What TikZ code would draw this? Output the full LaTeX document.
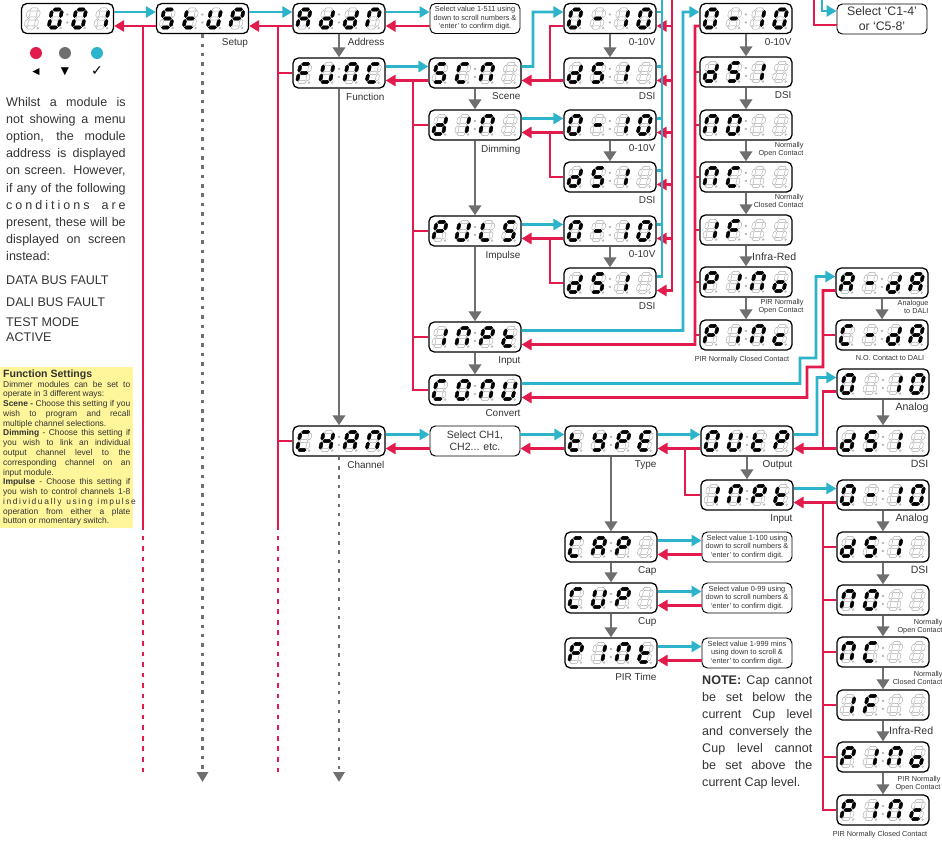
\documentclass[tikz,border=0pt]{standalone}
\usepackage{fontspec}
\setmainfont{Liberation Sans}
\newfontfamily\symfont{DejaVu Sans}
\usepackage{xcolor}
\usepackage{tikz}
\usetikzlibrary{positioning,arrows.meta,calc}
\definecolor{MenuCyan}{HTML}{2EB4CA}
\definecolor{MenuRed}{HTML}{E31A4C}
\definecolor{MenuGrey}{HTML}{6F6F6F}
\definecolor{SegGrey}{HTML}{A8A8A8}
\definecolor{TextGrey}{HTML}{333333}
\definecolor{NoteYellow}{HTML}{FFF59A}
\tikzset{segoff/.style={draw=SegGrey,line width=0.35pt,fill=white},
 segon/.style={draw=black,line width=0.3pt,fill=black}}
% one segment of a display digit
\newcommand{\hsg}[3]{(#1,#3) -- (#1+1.6,#3-1.6) -- (#2-1.6,#3-1.6) -- (#2,#3) -- (#2-1.6,#3+1.6) -- (#1+1.6,#3+1.6) -- cycle}
\newcommand{\vsg}[3]{(#1,#2) -- (#1+1.6,#2+1.6) -- (#1+1.6,#3-1.6) -- (#1,#3) -- (#1-1.6,#3-1.6) -- (#1-1.6,#2+1.6) -- cycle}
\newcommand{\sega}{\hsg{-4.1}{4.1}{-9}}
\newcommand{\segb}{\vsg{5}{-8.1}{-0.9}}
\newcommand{\segc}{\vsg{5}{0.9}{8.1}}
\newcommand{\segd}{\hsg{-4.1}{4.1}{9}}
\newcommand{\sege}{\vsg{-5}{0.9}{8.1}}
\newcommand{\segf}{\vsg{-5}{-8.1}{-0.9}}
\newcommand{\segg}{\hsg{-4.1}{4.1}{0}}
\newcommand{\segn}{}
% lit segments of each glyph
\newcommand{\sdOff}{n}
\newcommand{\sdO}{a,b,c,d,e,f}
\newcommand{\sdOne}{b,c}
\newcommand{\sdDash}{g}
\newcommand{\sdA}{a,b,c,e,f,g}
\newcommand{\sdC}{a,d,e,f}
\newcommand{\sdc}{d,e,g}
\newcommand{\sdd}{b,c,d,e,g}
\newcommand{\sdE}{a,d,e,f,g}
\newcommand{\sdF}{a,e,f,g}
\newcommand{\sdH}{b,c,e,f,g}
\newcommand{\sdI}{b,c}
\newcommand{\sdL}{d,e,f}
\newcommand{\sdN}{a,b,c,e,f}
\newcommand{\sdo}{c,d,e,g}
\newcommand{\sdP}{a,b,e,f,g}
\newcommand{\sdR}{a,b,e,f}
\newcommand{\sdS}{a,c,d,f,g}
\newcommand{\sdt}{d,e,f,g}
\newcommand{\sdU}{b,c,d,e,f}
\newcommand{\sdY}{b,c,d,f,g}
\newcommand{\sdig}[3]{%
 \begin{scope}[shift={($(#1.west)+(#2,0)$)},xslant=0.2]
  \foreach \s in {a,b,c,d,e,f,g}{\draw[segoff] \csname seg\s\endcsname;}
  \foreach \s in #3{\fill[segon] \csname seg\s\endcsname;}
  \draw[segoff] (7.2,9.6) circle (0.9);
 \end{scope}}
\newcommand{\lcd}[5]{%
 \sdig{#1}{11.5}{#2}\sdig{#1}{34.5}{#3}\sdig{#1}{58.5}{#4}\sdig{#1}{81}{#5}%
 \draw[segoff] ($(#1.west)+(46.5,-4)$) circle (0.9) ($(#1.west)+(46.5,4)$) circle (0.9);}
% justified line
\newlength{\introW}\setlength{\introW}{102pt}
\newlength{\funW}\setlength{\funW}{108.5pt}
\newlength{\noteW}\setlength{\noteW}{94pt}
\newcommand{\jl}[2][\introW]{\makebox[#1][s]{#2}}

\begin{document}
\begin{tikzpicture}[x=0.3mm,y=-0.3mm,
 disp/.style={draw=black,line width=1.1pt,rounded corners=1.6mm,fill=white,minimum width=27.6mm,minimum height=9mm,inner sep=0pt},
 hint/.style={draw=black,line width=0.8pt,rounded corners=1.6mm,fill=white,minimum width=27mm,minimum height=9mm,inner sep=0pt,align=center,text=TextGrey,font=\fontsize{6.3}{7.2}\selectfont},
 fwd/.style={draw=MenuCyan,line width=2.5pt,-{Triangle[length=8.5pt,width=9.5pt]}},
 back/.style={draw=MenuRed,line width=2.5pt,-{Triangle[length=8.5pt,width=9.5pt]}},
 cline/.style={draw=MenuCyan,line width=2.5pt},
 rline/.style={draw=MenuRed,line width=2.5pt},
 rdash/.style={draw=MenuRed,line width=2.3pt,dash pattern=on 4pt off 5pt},
 gdash/.style={draw=MenuGrey,line width=2.3pt,dash pattern=on 3pt off 5pt,-{Triangle[length=8.5pt,width=9.5pt]}},
 down/.style={draw=MenuGrey,line width=2.5pt,-{Triangle[length=8.5pt,width=10.5pt]}},
 lab/.style={inner sep=0pt,anchor=north east,text=TextGrey,font=\fontsize{8.5}{9}\selectfont},
 labr/.style={lab,font=\fontsize{9}{10}\selectfont},
 sublab/.style={inner sep=0pt,anchor=north east,align=right,text=TextGrey,font=\fontsize{6.2}{7.4}\selectfont},
 key/.style={circle,minimum size=3.6mm,inner sep=0pt}]
\useasboundingbox (0,0) rectangle (942,842);

% displays, setup menu
\node[disp] (n001) at (67.5,18.5) {};
\node[disp] (setup) at (202.5,18.5) {};
\node[disp] (addr) at (339,18.5) {};
\node[hint] (sel511) at (475,18.5) {Select value 1-511 using\\down to scroll numbers \&\\`enter' to confirm digit.};
\node[disp] (func) at (339,73) {};
\node[disp] (chan) at (339,441) {};
\node[disp] (scn) at (475,73) {};
\node[disp] (dim) at (475,125) {};
\node[disp] (puls) at (475,231) {};
\node[disp] (inpt) at (475,337) {};
\node[disp] (conv) at (475,390) {};
\node[hint,font=\fontsize{9}{10.5}\selectfont] (selch) at (475,441) {Select CH1,\\CH2... etc.};
% output type columns
\node[disp] (s010) at (610,18.5) {};
\node[disp] (sdsi) at (610,73) {};
\node[disp] (d010) at (610,125) {};
\node[disp] (ddsi) at (610,177) {};
\node[disp] (p010) at (610,231) {};
\node[disp] (pdsi) at (610,283) {};
\node[disp] (i010) at (746,18.5) {};
\node[disp] (idsi) at (746,72) {};
\node[disp] (ino) at (746,125) {};
\node[disp] (inc) at (746,177) {};
\node[disp] (iif) at (746,230) {};
\node[disp] (ipino) at (746,282) {};
\node[disp] (ipinc) at (746,335) {};
\node[hint,font=\fontsize{10.5}{12.8}\selectfont] (selc) at (882,19) {Select `C1-4'\\or `C5-8'};
\node[disp] (ada) at (882,283) {};
\node[disp] (cda) at (882,335) {};
% channel menu
\node[disp] (type) at (611,441) {};
\node[disp] (outp) at (747,441) {};
\node[disp] (inpt2) at (747,495) {};
\node[disp] (oa010) at (883,384) {};
\node[disp] (oadsi) at (883,441) {};
\node[disp] (ia010) at (883,495) {};
\node[disp] (iadsi) at (883,547) {};
\node[disp] (iano) at (883,600) {};
\node[disp] (ianc) at (883,652) {};
\node[disp] (iaif) at (883,705) {};
\node[disp] (iapino) at (883,757) {};
\node[disp] (iapinc) at (883,810) {};
\node[disp] (cap) at (611,547) {};
\node[disp] (cup) at (611,598) {};
\node[disp] (pint) at (611,653) {};
\node[hint] (sel100) at (747,547) {Select value 1-100 using\\down to scroll numbers \&\\`enter' to confirm digit.};
\node[hint] (sel099) at (747,598) {Select value 0-99 using\\down to scroll numbers \&\\`enter' to confirm digit.};
\node[hint] (sel999) at (747,653) {Select value 1-999 mins\\using down to scroll \&\\`enter' to confirm digit.};

% what each display shows
\lcd{n001}{\sdOff}{\sdO}{\sdO}{\sdOne}
\lcd{setup}{\sdS}{\sdt}{\sdU}{\sdP}
\lcd{addr}{\sdA}{\sdd}{\sdd}{\sdR}
\lcd{func}{\sdF}{\sdU}{\sdN}{\sdC}
\lcd{chan}{\sdC}{\sdH}{\sdA}{\sdN}
\lcd{scn}{\sdS}{\sdC}{\sdN}{\sdOff}
\lcd{dim}{\sdd}{\sdI}{\sdN}{\sdOff}
\lcd{puls}{\sdP}{\sdU}{\sdL}{\sdS}
\lcd{inpt}{\sdI}{\sdN}{\sdP}{\sdt}
\lcd{conv}{\sdC}{\sdO}{\sdN}{\sdU}
\foreach \n in {s010,d010,p010,i010,ia010} {\lcd{\n}{\sdO}{\sdDash}{\sdOne}{\sdO}}
\foreach \n in {sdsi,ddsi,pdsi,idsi,oadsi,iadsi} {\lcd{\n}{\sdd}{\sdS}{\sdI}{\sdOff}}
\foreach \n in {ino,iano} {\lcd{\n}{\sdN}{\sdO}{\sdOff}{\sdOff}}
\foreach \n in {inc,ianc} {\lcd{\n}{\sdN}{\sdC}{\sdOff}{\sdOff}}
\foreach \n in {iif,iaif} {\lcd{\n}{\sdI}{\sdF}{\sdOff}{\sdOff}}
\foreach \n in {ipino,iapino} {\lcd{\n}{\sdP}{\sdI}{\sdN}{\sdo}}
\foreach \n in {ipinc,iapinc} {\lcd{\n}{\sdP}{\sdI}{\sdN}{\sdc}}
\lcd{ada}{\sdA}{\sdDash}{\sdd}{\sdA}
\lcd{cda}{\sdC}{\sdDash}{\sdd}{\sdA}
\lcd{type}{\sdt}{\sdY}{\sdP}{\sdE}
\lcd{outp}{\sdO}{\sdU}{\sdt}{\sdP}
\lcd{inpt2}{\sdI}{\sdN}{\sdP}{\sdt}
\lcd{oa010}{\sdO}{\sdOff}{\sdOne}{\sdO}
\lcd{cap}{\sdC}{\sdA}{\sdP}{\sdOff}
\lcd{cup}{\sdC}{\sdU}{\sdP}{\sdOff}
\lcd{pint}{\sdP}{\sdI}{\sdN}{\sdt}

% bus corners
\coordinate (lb) at (143,26);   \coordinate (lbm) at (143,525);  \coordinate (lbe) at (143,778);
\coordinate (mb) at (278,26);   \coordinate (mbm) at (278,525);  \coordinate (mbe) at (278,778);
\coordinate (fb) at (413,80.5);
\coordinate (scj) at (533,12);  \coordinate (sj) at (550,80.5);
\coordinate (dj) at (550,132.5); \coordinate (pj) at (550,238.5);
\coordinate (c1t) at (662,0);   \coordinate (r1t) at (672,0);
\coordinate (c2j) at (683,12);  \coordinate (r2t) at (695,26);  \coordinate (r2b) at (695,344.5);
\coordinate (cv1) at (800,358); \coordinate (cv2) at (816,276.5);
\coordinate (cr1) at (823,367); \coordinate (cr2) at (807,397.5);
\coordinate (tb) at (685,448.5);
\coordinate (oj) at (817,377.5); \coordinate (ob) at (823,448.5);
\coordinate (ib) at (823,502.5);
\coordinate (ct) at (822,0);    \coordinate (rt) at (814,0);
\coordinate (sd) at (202.5,782); \coordinate (cd) at (339,782);

% forward and back along the top
\draw[fwd] ([yshift=1.95mm]n001.east) -- ([yshift=1.95mm]setup.west);
\draw[back] ([yshift=-2.25mm]setup.west) -- ([yshift=-2.25mm]n001.east);
\draw[fwd] ([yshift=1.95mm]setup.east) -- ([yshift=1.95mm]addr.west);
\draw[back] ([yshift=-2.25mm]addr.west) -- ([yshift=-2.25mm]setup.east);
\draw[fwd] ([yshift=1.95mm]addr.east) -- ([yshift=1.95mm]sel511.west);
\draw[back] ([yshift=-2.25mm]sel511.west) -- ([yshift=-2.25mm]addr.east);
\draw[rline] (lb) -- (lbm);
\draw[rdash] (lbm) -- (lbe);
\draw[rline] (mb) -- (mbm);
\draw[rdash] (mbm) -- (mbe);
\draw[rline] (mb |- func.west) -- (func.west);
\draw[rline] (mb |- chan.west) -- (chan.west);
\draw[gdash] (setup.south) -- (sd);
\draw[gdash] (chan.south) -- (cd);

% function menu
\draw[fwd] ([yshift=1.95mm]func.east) -- ([yshift=1.95mm]scn.west);
\draw[back] ([yshift=-2.25mm]scn.west) -- ([yshift=-2.25mm]func.east);
\draw[rline] (fb) |- (conv.west);
\foreach \n in {dim,puls,inpt} {\draw[rline] (fb |- \n.west) -- (\n.west);}
\draw[fwd] ([yshift=1.95mm]scn.east) -| (scj) -- ([yshift=1.95mm]s010.west);
\draw[back] ([yshift=-2.25mm]sdsi.west) -- ([yshift=-2.25mm]scn.east);
\draw[rline] ([yshift=-2.25mm]s010.west) -| (sj);
\draw[fwd] ([yshift=1.95mm]dim.east) -- ([yshift=1.95mm]d010.west);
\draw[back] ([yshift=-2.25mm]d010.west) -- ([yshift=-2.25mm]dim.east);
\draw[rline] (dj) |- (ddsi.west);
\draw[fwd] ([yshift=1.95mm]puls.east) -- ([yshift=1.95mm]p010.west);
\draw[back] ([yshift=-2.25mm]p010.west) -- ([yshift=-2.25mm]puls.east);
\draw[rline] (pj) |- (pdsi.west);
\foreach \n in {s010,sdsi,d010,ddsi,p010,pdsi} {
 \draw[cline] ([yshift=1.95mm]\n.east) -| (c1t);
 \draw[back] (r1t) |- ([yshift=-2.25mm]\n.east);}
\draw[fwd] ([yshift=1.95mm]inpt.east) -| (c2j) -- ([yshift=1.95mm]i010.west);
\draw[back] ([yshift=-2.25mm]i010.west) -| (r2b) -- ([yshift=-2.25mm]inpt.east);
\foreach \n in {idsi,ino,inc,iif,ipino,ipinc} {\draw[rline] (r2t |- \n.west) -- (\n.west);}
\draw[fwd] ([yshift=1.95mm]conv.east) -| (cv1) -| (cv2) -- ([yshift=1.95mm]ada.west);
\draw[back] ([yshift=-2.25mm]ada.west) -| (cr1) -| (cr2) -- ([yshift=-2.25mm]conv.east);
\draw[rline] (cr1 |- cda.west) -- (cda.west);
\draw[fwd] (ct) |- ([yshift=2.4mm]selc.west);
\draw[rline] (rt) |- ([yshift=-1.8mm]selc.west);

% channel menu
\draw[fwd] ([yshift=1.95mm]chan.east) -- ([yshift=1.95mm]selch.west);
\draw[back] ([yshift=-2.25mm]selch.west) -- ([yshift=-2.25mm]chan.east);
\draw[fwd] ([yshift=1.95mm]selch.east) -- ([yshift=1.95mm]type.west);
\draw[back] ([yshift=-2.25mm]type.west) -- ([yshift=-2.25mm]selch.east);
\draw[fwd] ([yshift=1.95mm]type.east) -- ([yshift=1.95mm]outp.west);
\draw[back] ([yshift=-2.25mm]outp.west) -- ([yshift=-2.25mm]type.east);
\draw[rline] (tb) |- (inpt2.west);
\draw[fwd] ([yshift=1.95mm]outp.east) -| (oj) -- ([yshift=1.95mm]oa010.west);
\draw[rline] ([yshift=-2.25mm]oa010.west) -| (ob);
\draw[back] ([yshift=-2.25mm]oadsi.west) -- ([yshift=-2.25mm]outp.east);
\draw[fwd] ([yshift=1.95mm]inpt2.east) -- ([yshift=1.95mm]ia010.west);
\draw[back] ([yshift=-2.25mm]ia010.west) -- ([yshift=-2.25mm]inpt2.east);
\draw[rline] (ib) |- (iapinc.west);
\foreach \n in {iadsi,iano,ianc,iaif,iapino} {\draw[rline] (ib |- \n.west) -- (\n.west);}
\foreach \a/\b in {cap/sel100,cup/sel099,pint/sel999} {
 \draw[fwd] ([yshift=1.95mm]\a.east) -- ([yshift=1.95mm]\b.west);
 \draw[back] ([yshift=-2.25mm]\b.west) -- ([yshift=-2.25mm]\a.east);}

% down the menus
\foreach \a/\b in {addr/func,func/chan,scn/dim,dim/puls,puls/inpt,inpt/conv,s010/sdsi,d010/ddsi,p010/pdsi,
 i010/idsi,idsi/ino,ino/inc,inc/iif,iif/ipino,ipino/ipinc,ada/cda,type/cap,cap/cup,cup/pint,outp/inpt2,
 oa010/oadsi,ia010/iadsi,iadsi/iano,iano/ianc,ianc/iaif,iaif/iapino,iapino/iapinc}
 {\draw[down] (\a.south) -- (\b.north);}

% labels
\foreach \n/\t in {setup/Setup,addr/Address,func/Function,scn/Scene,dim/Dimming,puls/Impulse,inpt/Input,
 conv/Convert,chan/Channel,type/Type,outp/Output,inpt2/Input,cap/Cap,cup/Cup,pint/PIR Time,
 s010/0-10V,sdsi/DSI,d010/0-10V,ddsi/DSI,p010/0-10V,pdsi/DSI,i010/0-10V,idsi/DSI}
 {\node[lab] (\n-lab) at ([shift={(-1,4)}]\n.south east) {\t};}
\foreach \n/\t in {oa010/Analog,oadsi/DSI,ia010/Analog,iadsi/DSI}
 {\node[labr] (\n-lab) at ([shift={(-1,3)}]\n.south east) {\t};}
\node[sublab] (ino-lab) at ([shift={(11,1)}]ino.south east) {Normally\\Open Contact};
\node[sublab] (inc-lab) at ([shift={(11,1)}]inc.south east) {Normally\\Closed Contact};
\node[sublab] (ipino-lab) at ([shift={(11,1)}]ipino.south east) {PIR Normally\\Open Contact};
\node[sublab,anchor=north] (ipinc-lab) at ([shift={(-4,5)}]ipinc.south) {PIR Normally Closed Contact};
\node[labr,anchor=west] (iif-lab) at ([shift={(6,11)}]iif.south) {Infra-Red};
\node[sublab] (ada-lab) at ([shift={(0,1)}]ada.south east) {Analogue\\to DALI};
\node[sublab,anchor=north] (cda-lab) at ([shift={(8,5)}]cda.south) {N.O. Contact to DALI};
\node[sublab] (iano-lab) at ([shift={(13,3)}]iano.south east) {Normally\\Open Contact};
\node[sublab] (ianc-lab) at ([shift={(13,3)}]ianc.south east) {Normally\\Closed Contact};
\node[labr,anchor=west] (iaif-lab) at ([shift={(6,10)}]iaif.south) {Infra-Red};
\node[sublab] (iapino-lab) at ([shift={(11,3)}]iapino.south east) {PIR Normally\\Open Contact};
\node[sublab,anchor=north] (iapinc-lab) at ([shift={(-3,5)}]iapinc.south) {PIR Normally Closed Contact};

% key
\node[key,fill=MenuRed] (kred) at (36,53) {};
\node[key,fill=MenuGrey] (kgrey) at (65,53) {};
\node[key,fill=MenuCyan] (kcyan) at (97,53) {};
\node[inner sep=0pt,font=\symfont\fontsize{8}{8}\selectfont] (kback) at (36,72) {◀};
\node[inner sep=0pt,font=\symfont\fontsize{9}{9}\selectfont] (kdown) at (65,72) {▼};
\node[inner sep=0pt,font=\symfont\fontsize{12}{12}\selectfont] (kok) at (97,71) {✓};

% notes
\node[anchor=north west,inner sep=0pt,align=left,text=TextGrey,font=\fontsize{10.7}{14.65}\selectfont] (intro) at (6,97)
 {\jl{Whilst a module is}\\\jl{not showing a menu}\\\jl{option, the module}\\\jl{address is displayed}\\
  \jl{on screen. However,}\\\jl{if any of the following}\\\jl{c o n d i t i o n s \ \ \ a r e}\\
  \jl{present, these will be}\\\jl{displayed on screen}\\instead:};
\node[anchor=west,inner sep=0pt,text=TextGrey,font=\fontsize{10.7}{13}\selectfont] (fdata) at (6,280) {DATA BUS FAULT};
\node[anchor=west,inner sep=0pt,text=TextGrey,font=\fontsize{10.7}{13}\selectfont] (fdali) at (6,302) {DALI BUS FAULT};
\node[anchor=north west,inner sep=0pt,align=left,text=TextGrey,font=\fontsize{10.7}{12.8}\selectfont] (ftest) at (6,318) {TEST MODE\\ACTIVE};
\node[anchor=north west,fill=NoteYellow,inner xsep=2.5pt,inner ysep=2pt,align=left,text=TextGrey,font=\fontsize{7.2}{8.35}\selectfont] (fset) at (0,367)
 {{\fontsize{9}{10}\selectfont\bfseries Function Settings}\\
  \jl[\funW]{Dimmer modules can be set to}\\operate in 3 different ways:\\
  \jl[\funW]{\textbf{Scene -} Choose this setting if you}\\\jl[\funW]{wish to program and recall}\\multiple channel selections.\\
  \jl[\funW]{\textbf{Dimming} - Choose this setting if}\\\jl[\funW]{you wish to link an individual}\\
  \jl[\funW]{output channel level to the}\\\jl[\funW]{corresponding channel on an}\\input module.\\
  \jl[\funW]{\textbf{Impulse} - Choose this setting if}\\\jl[\funW]{you wish to control channels 1-8}\\
  \jl[\funW]{i n d i v i d u a l l y \ \ u s i n g \ \ i m p u l s e}\\\jl[\funW]{operation from either a plate}\\
  button or momentary switch.};
\node[anchor=north west,inner sep=0pt,align=left,text=TextGrey,font=\fontsize{10.7}{14.45}\selectfont] (note) at (702,676)
 {\jl[\noteW]{\textbf{NOTE:} Cap cannot}\\\jl[\noteW]{be set below the}\\\jl[\noteW]{current Cup level}\\
  \jl[\noteW]{and conversely the}\\\jl[\noteW]{Cup level cannot}\\\jl[\noteW]{be set above the}\\current Cap level.};
\end{tikzpicture}
\end{document}
